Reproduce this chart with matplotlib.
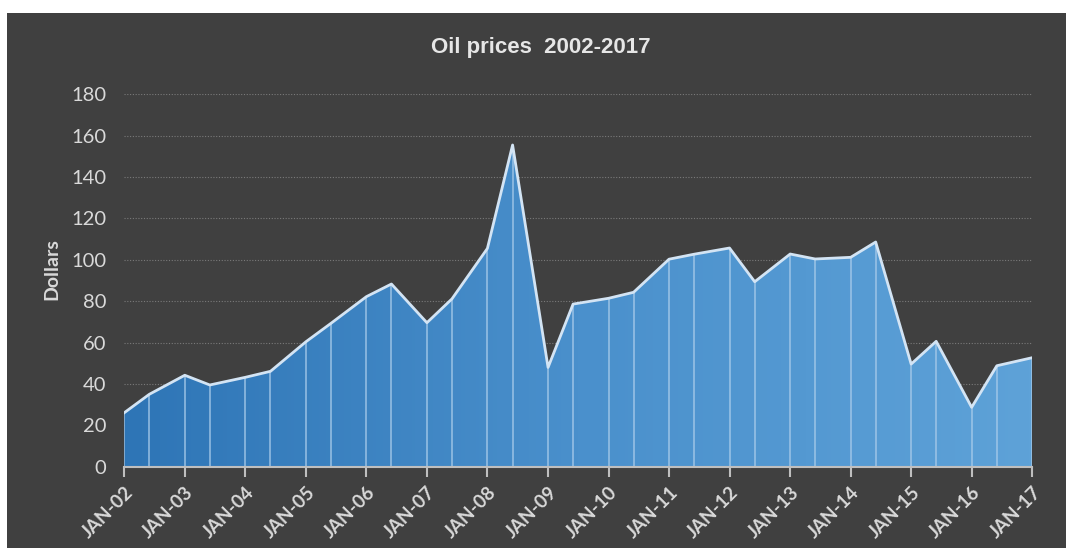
import matplotlib.pyplot as plt
import matplotlib.dates as mdates
import numpy as np
import pandas as pd
from matplotlib.colors import LinearSegmentedColormap
from matplotlib.patches import Rectangle

# half-yearly oil price readings (January and June)
dates = ['2002-01', '2002-06', '2003-01', '2003-06', '2004-01', '2004-06',
         '2005-01', '2005-06', '2006-01', '2006-06', '2007-01', '2007-06',
         '2008-01', '2008-06', '2009-01', '2009-06', '2010-01', '2010-06',
         '2011-01', '2011-06', '2012-01', '2012-06', '2013-01', '2013-06',
         '2014-01', '2014-06', '2015-01', '2015-06', '2016-01', '2016-06',
         '2017-01']
prices = [26.1, 35.0, 44.2, 39.5, 43.2, 46.1,
          60.4, 69.3, 82.2, 88.3, 69.6, 81.1,
          105.5, 155.5, 48.0, 78.6, 81.4, 84.3,
          100.3, 102.7, 105.7, 89.4, 102.8, 100.4,
          101.2, 108.6, 49.6, 60.6, 28.7, 48.8,
          52.7]
tick_years = list(range(2002, 2018))
tick_labels = ['JAN-{:02d}'.format(y % 100) for y in tick_years]
y_ticks = [0, 20, 40, 60, 80, 100, 120, 140, 160, 180]

bg = '#404040'
txt = '#d9d9d9'

x = mdates.date2num(pd.to_datetime(dates))
xticks = mdates.date2num(pd.to_datetime(['{}-01-01'.format(y) for y in tick_years]))

fig = plt.figure(figsize=(10.66, 5.48), dpi=100, facecolor='white')
fig.patches.append(Rectangle((7 / 1066, 0), 1, 1 - 13 / 548, transform=fig.transFigure,
                             facecolor=bg, edgecolor='none', zorder=-1))
ax = fig.add_axes([124.3 / 1066, 1 - 466.7 / 548, 908 / 1066, 372.4 / 548])
ax.set_facecolor(bg)
ax.set_xlim(x[0], x[-1])
ax.set_ylim(0, 180)

# gradient fill clipped to the area
poly = ax.fill_between(x, prices, 0, facecolor='none', edgecolor='none')
cmap = LinearSegmentedColormap.from_list('oil', ['#2e75b6', '#4a90cc', '#5ea2d8'])
grad = ax.imshow(np.linspace(0, 1, 256).reshape(1, -1), cmap=cmap, aspect='auto',
                 extent=[x[0], x[-1], 0, 180], origin='lower', zorder=2)
grad.set_clip_path(poly.get_paths()[0], transform=ax.transData)

ax.vlines(x, 0, prices, colors='#a8cbea', linewidth=1.2, alpha=0.8, zorder=3)
ax.plot(x, prices, color='#d3e4f4', linewidth=2, zorder=4)

for v in y_ticks[1:]:
    ax.axhline(v, color='#7a7a7a', linestyle=(0, (1, 1.5)), linewidth=0.8, zorder=1)

for s in ['left', 'right', 'top']:
    ax.spines[s].set_visible(False)
ax.spines['bottom'].set_color('#bfbfbf')
ax.spines['bottom'].set_linewidth(1.5)
ax.spines['bottom'].set_zorder(5)

ax.set_yticks(y_ticks)
ax.set_yticklabels([str(v) for v in y_ticks], fontsize=14.5, color=txt, family='Lato')
ax.tick_params(axis='y', length=0, pad=13)
ax.set_xticks(xticks)
ax.set_xticklabels(tick_labels, rotation=45, ha='right', rotation_mode='anchor',
                   fontsize=13.5, fontweight='bold', color=txt, family='Lato')
ax.tick_params(axis='x', length=7, width=1.5, color='#bfbfbf', direction='out', pad=5)

ax.set_ylabel('Dollars', fontsize=14, fontweight='bold', color=txt, family='Lato')
ax.yaxis.set_label_coords(-0.07, 0.53)
fig.text(541 / 1066, 1 - 47 / 548, 'Oil prices  2002-2017', ha='center', va='center',
         fontsize=16, fontweight='bold', color='#e6e6e6', family='Liberation Sans')

fig.savefig('out.png', dpi=100, facecolor=fig.get_facecolor())
